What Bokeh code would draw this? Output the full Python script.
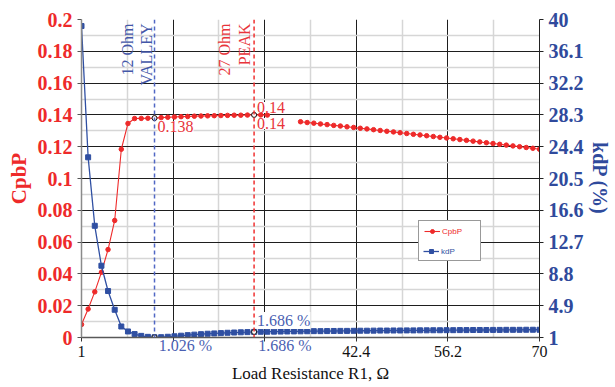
import math
from bokeh.plotting import figure
from bokeh.models import (Range1d, LinearAxis, FixedTicker, CustomJSTickFormatter,
                          Span, Label, Legend, LegendItem)
from bokeh.embed import file_html
from bokeh.resources import INLINE

NaN = float("nan")

# ---------------- data ----------------
load_r = list(range(1, 71))

cpbp = [0.0082, 0.0179, 0.0287, 0.0410, 0.0553, 0.0736, 0.1184, 0.1346, 0.1377, 0.1378,
        0.1379, 0.1380, 0.1383, 0.1385, 0.1387, 0.1389, 0.1390, 0.1392, 0.1393, 0.1394,
        0.1395, 0.1396, 0.1397, 0.1398, 0.1398, 0.1399, 0.1400, 0.1400, 0.1399, NaN,
        NaN, NaN, NaN, 0.1357, 0.1352, 0.1348, 0.1343, 0.1339, 0.1334, 0.1330,
        0.1325, 0.1321, 0.1316, 0.1312, 0.1307, 0.1302, 0.1297, 0.1293, 0.1288, 0.1283,
        0.1278, 0.1274, 0.1269, 0.1264, 0.1259, 0.1255, 0.1250, 0.1245, 0.1240, 0.1235,
        0.1230, 0.1225, 0.1220, 0.1215, 0.1210, 0.1205, 0.1200, 0.1195, 0.1190, 0.1184]

kdp = [39.2, 23.1, 14.7, 9.8, 6.7, 4.4, 2.35, 1.74, 1.42, 1.20,
       1.08, 1.026, 1.04, 1.09, 1.15, 1.22, 1.29, 1.35, 1.41, 1.46,
       1.50, 1.54, 1.58, 1.61, 1.64, 1.66, 1.686, 1.70, 1.71, 1.72,
       1.73, 1.74, 1.75, 1.76, 1.77, 1.78, 1.78, 1.79, 1.80, 1.81,
       1.81, 1.82, 1.83, 1.83, 1.84, 1.85, 1.85, 1.86, 1.86, 1.87,
       1.87, 1.88, 1.88, 1.89, 1.89, 1.90, 1.90, 1.91, 1.91, 1.92,
       1.92, 1.92, 1.93, 1.93, 1.94, 1.94, 1.94, 1.95, 1.95, 1.95]

x_ticks = [1, 14.8, 28.6, 42.4, 56.2, 70]
x_minor = [7.9, 21.7, 35.5, 49.3, 63.1]
x_hidden = [14.8, 28.6]          # tick labels hidden under the kdP data labels
left_ticks = [0, 0.02, 0.04, 0.06, 0.08, 0.1, 0.12, 0.14, 0.16, 0.18, 0.2]
left_minor = [0.01, 0.03, 0.05, 0.07, 0.09, 0.11, 0.13, 0.15, 0.17, 0.19]
right_ticks = [1, 4.9, 8.8, 12.7, 16.6, 20.5, 24.4, 28.3, 32.2, 36.1, 40]

valley_r = 12
peak_r = 27

# ---------------- styles ----------------
RED = "#ee2a2a"
RED_TXT = "#e8343a"
BLUE = "#2f4fa2"
BLUE_TXT = "#4a5fb2"
BLUE_TICK = "#2f4a9c"
SERIF = "Liberation Serif"

p = figure(width=615, height=387, output_backend="svg", toolbar_location=None,
           x_range=Range1d(1, 70), y_range=Range1d(0, 0.2),
           min_border_left=81, min_border_right=76, min_border_top=19, min_border_bottom=50)
p.extra_y_ranges = {"kdp": Range1d(1, 40)}
p.outline_line_color = None
p.background_fill_color = "white"
p.border_fill_color = "white"

xt = FixedTicker(ticks=x_ticks, minor_ticks=x_minor)
yt = FixedTicker(ticks=left_ticks, minor_ticks=left_minor)

# bottom axis (ticks + numbers)
xa = p.xaxis[0]
xa.ticker = xt
xa.formatter = CustomJSTickFormatter(
    args=dict(hide=x_hidden),
    code="for (const h of hide) { if (Math.abs(tick - h) < 1e-6) return ''; }"
         " return String(Math.round(tick*10)/10);")
xa.major_label_text_font = SERIF
xa.major_label_text_font_size = "16px"
xa.major_label_text_color = "#111111"
xa.major_label_standoff = 4
xa.axis_line_color = "#595959"
xa.axis_line_width = 1.5
xa.major_tick_line_color = "#333333"
xa.major_tick_out = 4
xa.major_tick_in = 0
xa.minor_tick_out = 0
xa.minor_tick_in = 0

# left axis
ya = p.yaxis[0]
ya.ticker = yt
ya.formatter = CustomJSTickFormatter(code="return String(Math.round(tick*100)/100);")
ya.axis_label = "CpbP"
ya.axis_label_text_font = SERIF
ya.axis_label_text_font_style = "bold"
ya.axis_label_text_font_size = "21px"
ya.axis_label_text_color = RED
ya.axis_label_standoff = 4
ya.major_label_text_font = SERIF
ya.major_label_text_font_style = "bold"
ya.major_label_text_font_size = "20px"
ya.major_label_text_color = RED
ya.major_label_standoff = 5
ya.axis_line_color = "#8a8a8a"
ya.axis_line_width = 1.5
ya.major_tick_line_color = "#555555"
ya.major_tick_out = 4
ya.major_tick_in = 0
ya.minor_tick_out = 0
ya.minor_tick_in = 0

# right axis
ra = LinearAxis(y_range_name="kdp", ticker=FixedTicker(ticks=right_ticks),
                formatter=CustomJSTickFormatter(code="return String(Math.round(tick*10)/10);"))
ra.axis_label = "kdP (%)"
ra.axis_label_text_font = SERIF
ra.axis_label_text_font_style = "bold"
ra.axis_label_text_font_size = "20px"
ra.axis_label_text_color = BLUE_TICK
ra.axis_label_standoff = 2
ra.major_label_text_font = SERIF
ra.major_label_text_font_style = "bold"
ra.major_label_text_font_size = "20px"
ra.major_label_text_color = BLUE_TICK
ra.major_label_standoff = 5
ra.axis_line_color = "#222222"
ra.major_tick_line_color = "#222222"
ra.major_tick_out = 4
ra.major_tick_in = 0
ra.minor_tick_out = 0
ra.minor_tick_in = 0
p.add_layout(ra, "right")

# grids
p.xgrid.ticker = xt
p.ygrid.ticker = yt
for g in (p.xgrid[0], p.ygrid[0]):
    g.grid_line_color = "#1e1e1e"
    g.grid_line_width = 1
    g.minor_grid_line_color = "#d6d6d6"
    g.minor_grid_line_width = 1.5

# series
r_line = p.line(load_r, cpbp, line_color=RED, line_width=1.1)
r_pts = p.scatter(load_r, cpbp, marker="circle", size=4.5, fill_color=RED, line_color=RED)
b_line = p.line(load_r, kdp, line_color=BLUE, line_width=1.3, y_range_name="kdp")
b_pts = p.scatter(load_r, kdp, marker="square", size=5, fill_color=BLUE, line_color=BLUE,
                  y_range_name="kdp")

# valley / peak markers
vi = load_r.index(valley_r)
pi_ = load_r.index(peak_r)
mark_r = [valley_r, peak_r]
p.add_layout(Span(location=valley_r, dimension="height", line_color="#5067c4",
                  line_dash="4 3", line_width=1.5))
p.add_layout(Span(location=peak_r, dimension="height", line_color="#f03030",
                  line_dash="4 3", line_width=1.5))
p.scatter(mark_r, [cpbp[vi], cpbp[pi_]], marker="circle", size=5,
          fill_color="white", line_color="#111111", line_width=1)
p.scatter(mark_r, [kdp[vi], kdp[pi_]], marker="circle", size=5,
          fill_color="white", line_color="#111111", line_width=1, y_range_name="kdp")

# rotated annotations
def vtext(xv, txt, xoff, color):
    p.add_layout(Label(x=xv, y=0.2, x_offset=xoff, y_offset=-4, text=txt,
                       angle=math.pi / 2, text_align="right", text_baseline="alphabetic",
                       text_font=SERIF, text_font_size="16px", text_color=color))

vtext(valley_r, "12 Ohm", -27, "#4357a8")
vtext(valley_r, "VALLEY", -8, "#4357a8")
vtext(peak_r, "27 Ohm", -30, RED_TXT)
vtext(peak_r, "PEAK", -10, RED_TXT)

# data labels inside the frame
def dlabel(xv, yv, txt, yoff, base, color, rng="default"):
    p.add_layout(Label(x=xv, y=yv, x_offset=3, y_offset=yoff, text=txt, y_range_name=rng,
                       text_align="left", text_baseline=base, text_font=SERIF,
                       text_font_size="16px", text_color=color,
                       background_fill_color="white"))

cv = f"{cpbp[vi]:.3g}"
cp = f"{cpbp[pi_]:.3g}"
kv = f"{kdp[vi]:.3f} %"
kp = f"{kdp[pi_]:.3f} %"
dlabel(valley_r, cpbp[vi], cv, -3, "top", RED_TXT)
dlabel(peak_r, cpbp[pi_], cp, 2, "bottom", RED_TXT)
dlabel(peak_r, cpbp[pi_], cp, -3, "top", RED_TXT)
dlabel(peak_r, kdp[pi_], kp, 3, "bottom", BLUE_TXT, "kdp")

# kdP data labels below the x axis line: a second, line-less bottom axis whose
# labels are pulled up into the row of the tick numbers; it also carries the title
shift = 4.65
lab_pos = [valley_r + shift, peak_r + shift]
lab_txt = [kv, kp]
la = LinearAxis(ticker=FixedTicker(ticks=lab_pos),
                formatter=CustomJSTickFormatter(
                    args=dict(pos=lab_pos, txt=lab_txt),
                    code="for (let i = 0; i < pos.length; i++) {"
                         " if (Math.abs(tick - pos[i]) < 1e-6) return txt[i]; } return '';"))
la.axis_line_color = None
la.major_tick_line_color = None
la.minor_tick_line_color = None
la.major_tick_out = 0
la.major_tick_in = 0
la.minor_tick_out = 0
la.minor_tick_in = 0
la.major_label_text_font = SERIF
la.major_label_text_font_size = "16px"
la.major_label_text_color = BLUE_TXT
la.axis_label = "Load Resistance R1, \u03a9"
la.axis_label_text_font = SERIF
la.axis_label_text_font_style = "normal"
la.axis_label_text_font_size = "17px"
la.axis_label_text_color = "#111111"
try:
    la.major_label_standoff = -23
    la.axis_label_standoff = 7
except Exception:
    la.major_label_standoff = 0
    la.axis_label_standoff = 2
p.add_layout(la, "below")

# legend (second legend recolours the kdP row)
legend = Legend(items=[LegendItem(label="CpbP", renderers=[r_line, r_pts]),
                       LegendItem(label="kdP", renderers=[b_line, b_pts])],
                location=(337, 76), padding=5, spacing=9, margin=0,
                glyph_width=16, glyph_height=10, label_standoff=2, label_width=33,
                label_text_font="Liberation Sans", label_text_font_size="8px",
                label_text_color=RED,
                border_line_color="#333333", border_line_width=1.5,
                background_fill_color="white", background_fill_alpha=1)
p.add_layout(legend, "center")
legend2 = Legend(items=[LegendItem(label="kdP", renderers=[b_line, b_pts])],
                 location=(342, 81), padding=0, spacing=0, margin=0,
                 glyph_width=16, glyph_height=10, label_standoff=2, label_width=33,
                 label_text_font="Liberation Sans", label_text_font_size="8px",
                 label_text_color=BLUE, border_line_color=None,
                 background_fill_color="white", background_fill_alpha=1)
p.add_layout(legend2, "center")

open("out.html", "w").write(file_html(p, INLINE))
